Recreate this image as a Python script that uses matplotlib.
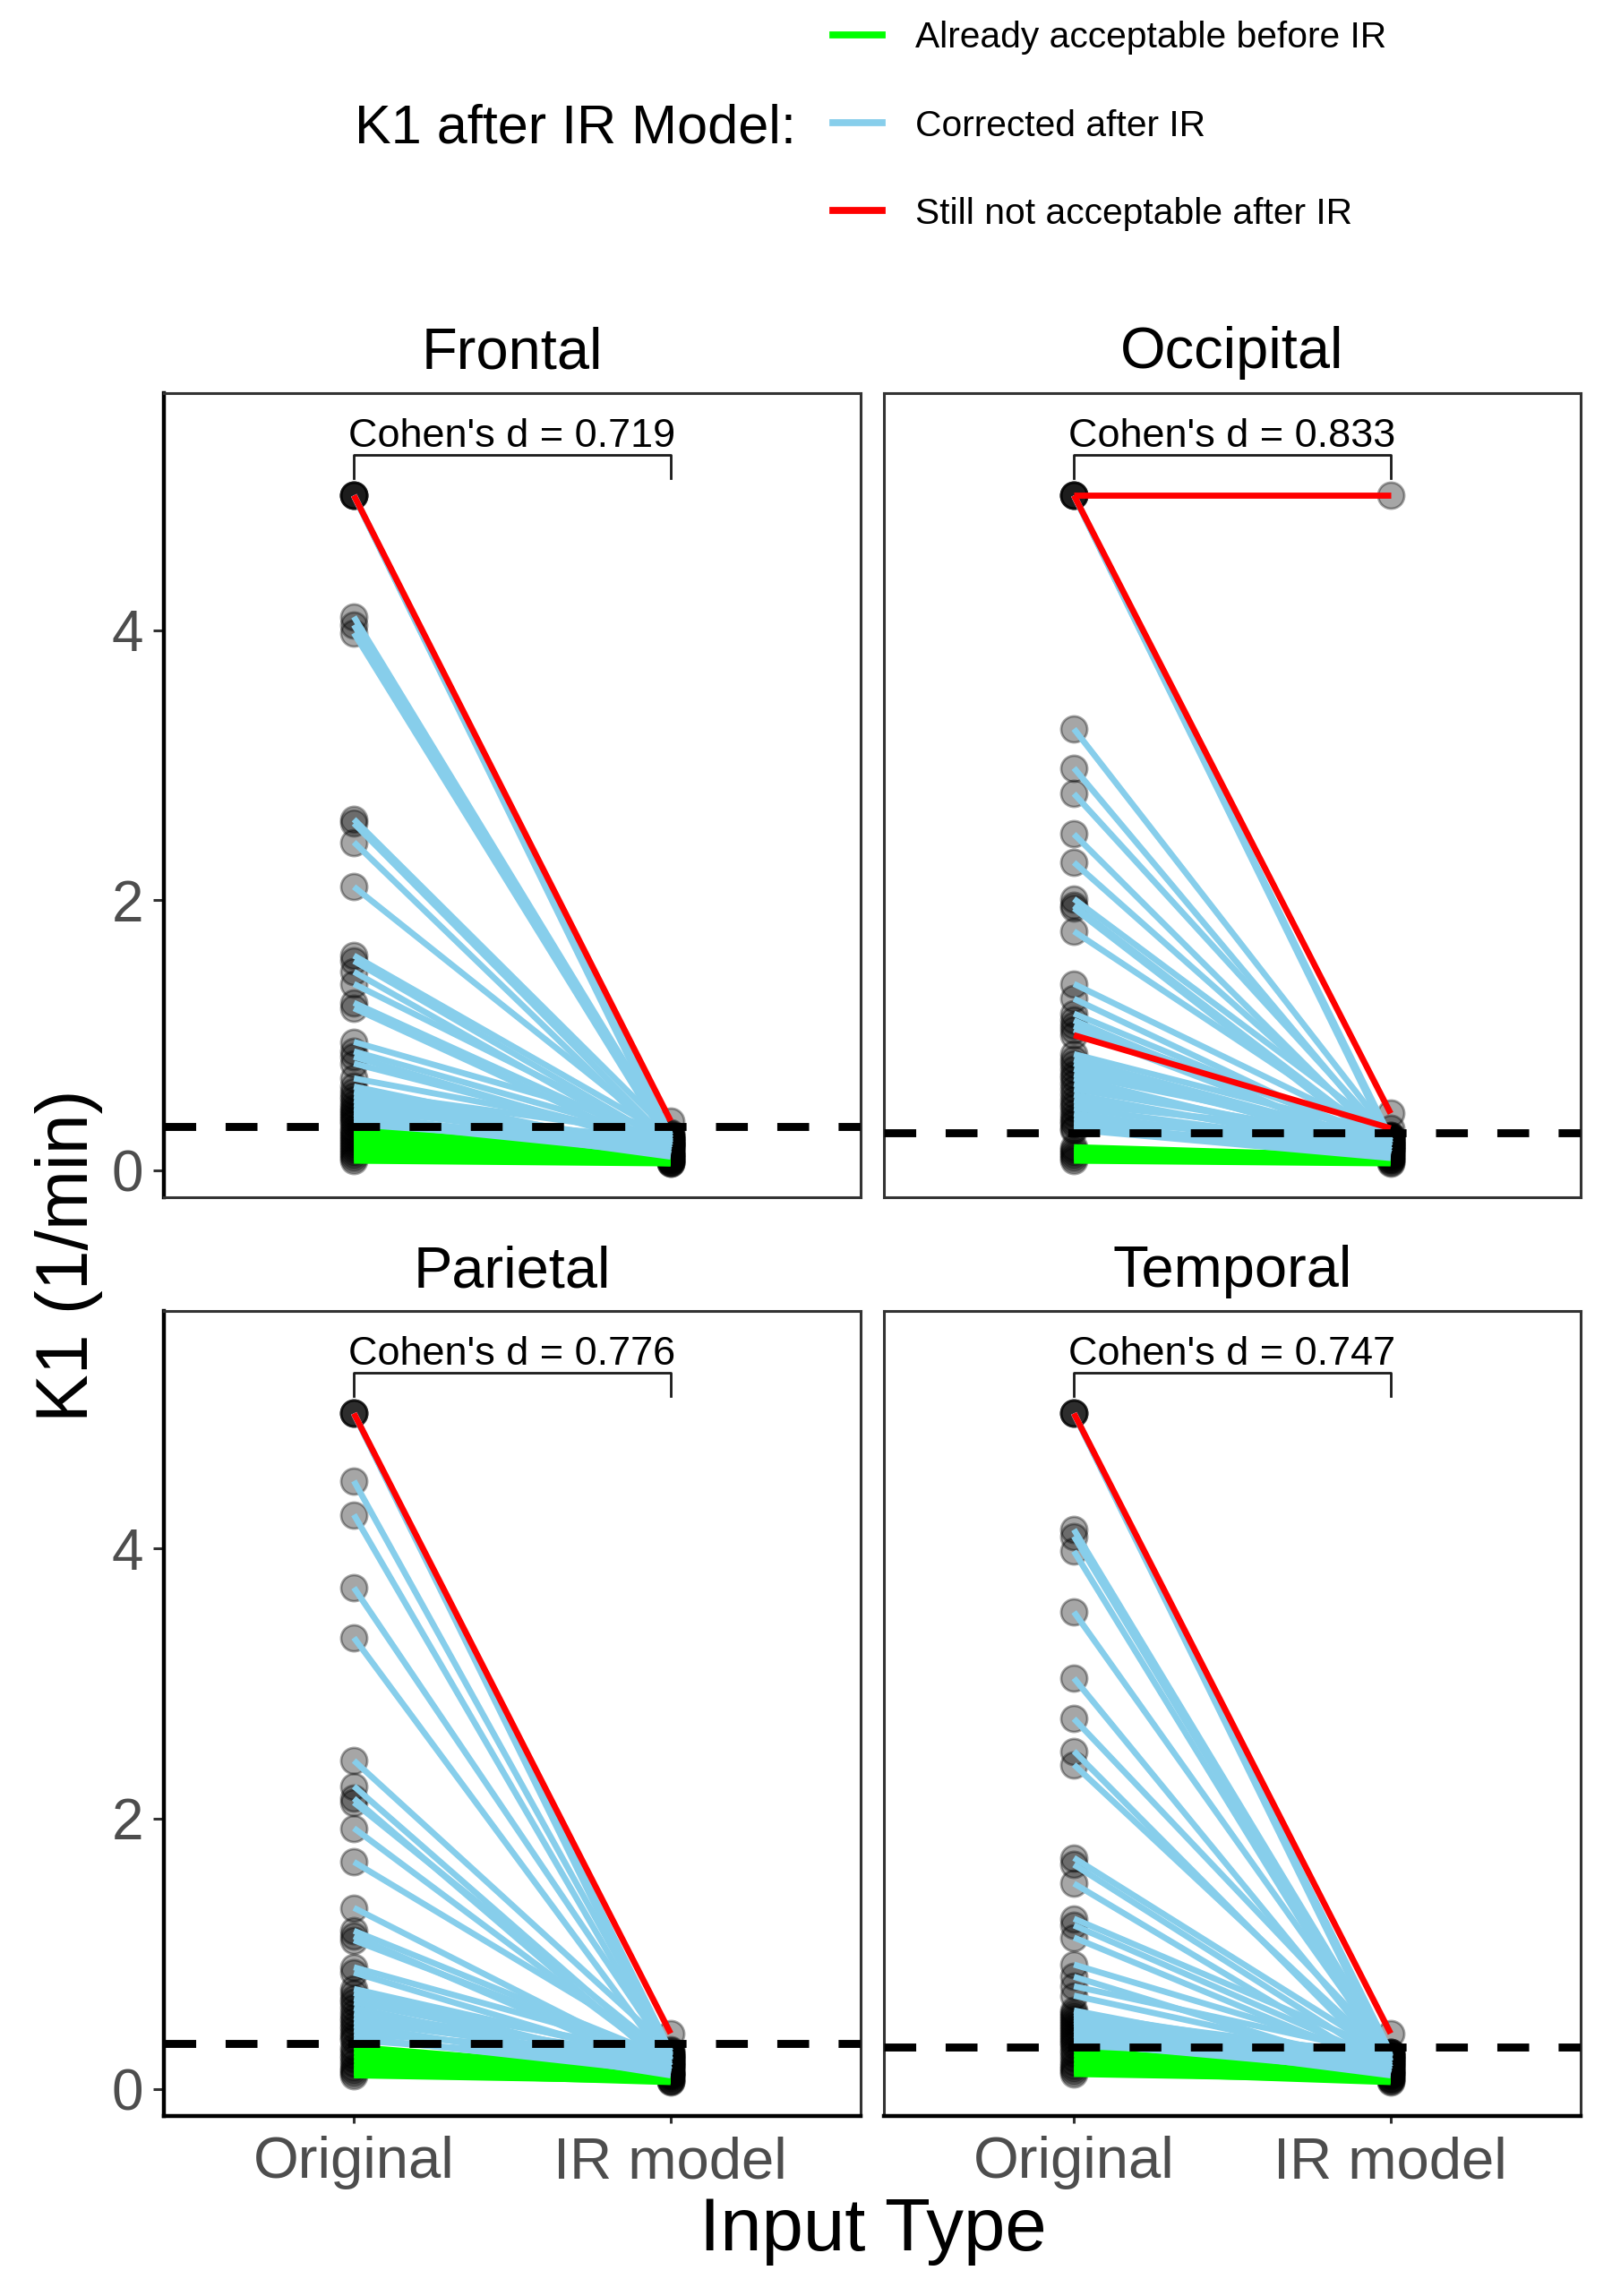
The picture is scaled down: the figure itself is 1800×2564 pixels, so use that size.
import matplotlib
matplotlib.use("Agg")
from matplotlib import pyplot as plt
from matplotlib.lines import Line2D

plt.rcParams['font.family'] = ['Liberation Sans', 'DejaVu Sans']

# ---- data ----
regions = ["Frontal", "Occipital", "Parietal", "Temporal"]
cohens_d = ["0.719", "0.833", "0.776", "0.747"]
thresholds = [0.32, 0.277, 0.334, 0.31]
input_types = ["Original", "IR model"]
y_ticks = [0, 2, 4]

frontal_orig = [5.0, 5.0, 5.0, 5.0, 5.0,
                4.10, 4.04, 3.98,
                2.60, 2.57, 2.43,
                2.10,
                1.59, 1.55, 1.47, 1.38, 1.24, 1.20,
                0.95, 0.88, 0.84, 0.79, 0.68,
                0.62, 0.58, 0.55, 0.52, 0.49, 0.46, 0.44, 0.42, 0.40, 0.38, 0.36, 0.34,
                0.31, 0.29, 0.27, 0.25, 0.23, 0.21, 0.19, 0.17, 0.15, 0.13, 0.11, 0.09, 0.07]
frontal_ir = [0.365, 0.26, 0.24, 0.22, 0.20,
              0.24, 0.21, 0.18,
              0.27, 0.20, 0.16,
              0.23,
              0.25, 0.19, 0.14, 0.21, 0.17, 0.12,
              0.28, 0.22, 0.15, 0.19, 0.24,
              0.13, 0.26, 0.18, 0.11, 0.20, 0.16, 0.23, 0.10, 0.14, 0.19, 0.12, 0.17,
              0.12, 0.10, 0.09, 0.11, 0.08, 0.07, 0.09, 0.06, 0.08, 0.05, 0.07, 0.06, 0.05]

occipital_orig = [5.0, 5.0, 5.0, 5.0, 5.0,
                  3.27, 2.98, 2.79, 2.49, 2.28, 2.01, 1.96, 1.94, 1.77, 1.38, 1.27, 1.16,
                  1.11, 1.07, 1.04, 1.00,
                  0.86, 0.82, 0.79, 0.75, 0.71, 0.68, 0.64, 0.60, 0.56, 0.52, 0.49, 0.46,
                  0.42, 0.39, 0.36, 0.34, 0.31, 0.30,
                  0.17, 0.15, 0.13, 0.11, 0.09, 0.07]
occipital_ir = [5.0, 0.42, 0.24, 0.22, 0.20,
                0.25, 0.18, 0.22, 0.15, 0.20, 0.26, 0.17, 0.13, 0.21, 0.24, 0.16, 0.19,
                0.12, 0.23, 0.15, 0.31,
                0.26, 0.20, 0.14, 0.18, 0.24, 0.11, 0.17, 0.21, 0.13, 0.19, 0.25, 0.15,
                0.10, 0.18, 0.22, 0.12, 0.16, 0.09,
                0.10, 0.08, 0.07, 0.06, 0.08, 0.05]

parietal_orig = [5.0, 5.0, 5.0, 5.0,
                 4.50, 4.25, 3.71, 3.34, 2.43, 2.24, 2.15, 2.12, 1.93, 1.68, 1.34, 1.17,
                 1.13, 1.10, 0.90, 0.86,
                 0.74, 0.71, 0.67, 0.64, 0.60, 0.56, 0.53, 0.50, 0.47, 0.44, 0.41, 0.38, 0.36,
                 0.31, 0.28, 0.25, 0.22, 0.19, 0.16, 0.14, 0.12, 0.10]
parietal_ir = [0.41, 0.28, 0.25, 0.22,
               0.26, 0.21, 0.24, 0.17, 0.29, 0.19, 0.14, 0.23, 0.18, 0.27, 0.15, 0.22,
               0.12, 0.20, 0.25, 0.16,
               0.21, 0.13, 0.26, 0.18, 0.11, 0.23, 0.15, 0.20, 0.10, 0.17, 0.24, 0.12, 0.19,
               0.12, 0.10, 0.08, 0.11, 0.07, 0.09, 0.06, 0.05, 0.06]

temporal_orig = [5.0, 5.0, 5.0, 5.0,
                 4.14, 4.09, 3.98, 3.53, 3.04, 2.74, 2.50, 2.40, 1.71, 1.66, 1.52, 1.26,
                 1.21, 1.12, 0.92, 0.83, 0.76, 0.69, 0.58,
                 0.56, 0.54, 0.52, 0.50, 0.48, 0.46, 0.44, 0.42, 0.40, 0.38, 0.36, 0.34, 0.32,
                 0.29, 0.26, 0.23, 0.20, 0.17, 0.15, 0.13, 0.11]
temporal_ir = [0.41, 0.27, 0.24, 0.21,
               0.25, 0.20, 0.16, 0.23, 0.18, 0.27, 0.14, 0.21, 0.24, 0.17, 0.12, 0.26,
               0.19, 0.15, 0.22, 0.11, 0.25, 0.18, 0.13,
               0.20, 0.24, 0.16, 0.12, 0.22, 0.27, 0.14, 0.19, 0.10, 0.23, 0.17, 0.13, 0.21,
               0.11, 0.09, 0.08, 0.10, 0.07, 0.06, 0.05, 0.07]

orig_values = [frontal_orig, occipital_orig, parietal_orig, temporal_orig]
ir_values = [frontal_ir, occipital_ir, parietal_ir, temporal_ir]

status_labels = ["Already acceptable before IR", "Corrected after IR",
                 "Still not acceptable after IR"]
status_colors = ["#00FF00", "#87CEEB", "#FF0000"]

# ---- figure ----
W, H = 1800, 2564
fig = plt.figure(figsize=(9, 12.82), dpi=200)


def box(l, t, r, b):
    return [l / W, 1 - b / H, (r - l) / W, (b - t) / H]


panel_px = [(183, 439, 961, 1337), (987, 439, 1765, 1337),
            (183, 1464, 961, 2363), (987, 1464, 1765, 2363)]

for k, region in enumerate(regions):
    l, t, r, b = panel_px[k]
    ax = fig.add_axes(box(l, t, r, b))
    col, row = k % 2, k // 2
    orig, ir, thr = orig_values[k], ir_values[k], thresholds[k]
    n = len(orig)

    ax.scatter([1] * n + [2] * n, orig + ir, s=110, color=(0, 0, 0, 0.35),
               edgecolors=(0, 0, 0, 0.35), linewidths=1.0, zorder=2)

    # colour group: before threshold / fixed by IR / still above threshold
    status = []
    for o, v in zip(orig, ir):
        if o <= thr:
            status.append(0)
        elif v > thr:
            status.append(2)
        else:
            status.append(1)
    for s in (0, 1, 2):
        for o, v, st in zip(orig, ir, status):
            if st == s:
                ax.plot([1, 2], [o, v], color=status_colors[s], lw=2.45,
                        solid_capstyle='butt', zorder=3)

    ax.axhline(thr, color='black', lw=3.2, dashes=(4, 3.7), zorder=4)

    ax.plot([1, 1, 2, 2], [5.13, 5.30, 5.30, 5.13], color='#1a1a1a', lw=1.0, zorder=5)
    ax.text(1.5, 5.36, f"Cohen's d = {cohens_d[k]}", ha='center', va='baseline',
            fontsize=16.2, color='black')

    ax.set_xlim(0.4, 2.6)
    ax.set_ylim(-0.201, 5.758)

    for sp in ax.spines.values():
        sp.set_color('#333333')
        sp.set_linewidth(1.1)
    ax.set_yticks(y_ticks)
    if col == 0:
        ax.spines['left'].set_color('black')
        ax.spines['left'].set_linewidth(1.6)
        ax.tick_params(axis='y', length=4.3, width=1.1, color='#333333',
                       labelsize=23, labelcolor='#4D4D4D', pad=4)
    else:
        ax.tick_params(axis='y', left=False, labelleft=False)
    ax.set_xticks([1, 2])
    if row == 1:
        ax.spines['bottom'].set_color('black')
        ax.spines['bottom'].set_linewidth(1.6)
        ax.set_xticklabels(input_types)
        ax.tick_params(axis='x', length=3, width=1.1, color='#333333',
                       labelsize=23.5, labelcolor='#4D4D4D', pad=5)
    else:
        ax.tick_params(axis='x', bottom=False, labelbottom=False)

    base = 411 if row == 0 else 1437
    fig.text((l + r) / 2 / W, 1 - base / H, region, ha='center', va='baseline',
             fontsize=23.4, color='black')

fig.text(975 / W, 1 - 2513 / H, "Input Type", ha='center', va='baseline',
         fontsize=30, color='black')
fig.text(77 / W, 1 - 1402 / H, "K1 (1/min)", ha='center', va='center',
         rotation=90, fontsize=29, color='black')

# legend
fig.text(889 / W, 1 - 160 / H, "K1 after IR Model:", ha='right', va='baseline',
         fontsize=22, color='black')
key_y = [39, 137, 235]
label_base = [53, 152, 250]
for i in range(3):
    fig.add_artist(Line2D([930 / W, 985 / W], [1 - key_y[i] / H] * 2,
                          transform=fig.transFigure, color=status_colors[i], lw=2.8))
    fig.text(1022 / W, 1 - label_base[i] / H, status_labels[i], ha='left',
             va='baseline', fontsize=14.7, color='black')

fig.savefig("out.png", dpi=200, facecolor='white')
